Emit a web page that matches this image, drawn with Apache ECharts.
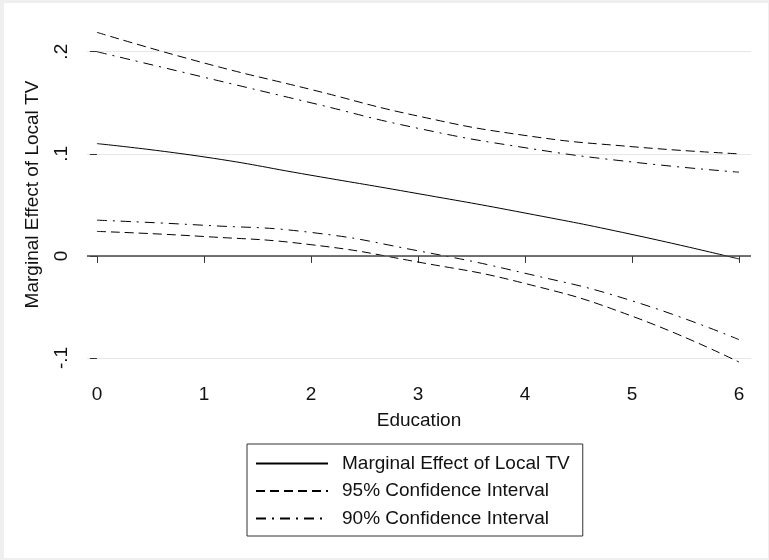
<!DOCTYPE html>
<html>
<head>
<meta charset="utf-8">
<script src="https://cdn.jsdelivr.net/npm/echarts@6/dist/echarts.min.js"></script>
<style>
  html, body { margin: 0; padding: 0; background: #efefef; }
  #myChart { width: 769px; height: 560px; }
</style>
</head>
<body>
<div id="myChart"></div>
<script>
  // education levels (x)
  var education = [0, 1, 2, 3, 4, 5, 6]
  // marginal effect + confidence bands
  var effect = [0.110, 0.097, 0.079, 0.061, 0.042, 0.021, -0.003]
  var ci95Upper = [0.219, 0.189, 0.163, 0.137, 0.118, 0.107, 0.100]
  var ci95Lower = [0.024, 0.019, 0.011, -0.006, -0.027, -0.059, -0.104]
  var ci90Upper = [0.200, 0.175, 0.150, 0.125, 0.106, 0.092, 0.082]
  var ci90Lower = [0.035, 0.030, 0.023, 0.005, -0.017, -0.044, -0.082]
  var yTicks = [-0.1, 0, 0.1, 0.2]
  var yTickLabels = { '-0.1': '-.1', '0': '0', '0.1': '.1', '0.2': '.2' }

  var font = "'Liberation Sans', Arial, sans-serif"

  function pairs(ys) {
    return education.map(function (x, i) { return [x, ys[i]] })
  }

  function lineSeries(name, ys, type) {
    return {
      name: name,
      type: 'line',
      data: pairs(ys),
      smooth: true,
      symbol: 'none',
      clip: false,
      lineStyle: { color: '#000', width: 1, type: type },
      itemStyle: { color: '#000' },
      emphasis: { disabled: true }
    }
  }

  var myChart = echarts.init(document.getElementById('myChart'))

  var series = [
    lineSeries('Marginal Effect of Local TV', effect, 'solid'),
    lineSeries('95% Confidence Interval', ci95Upper, [9, 5]),
    lineSeries('90% Confidence Interval', ci90Upper, [10, 6, 2, 6]),
    lineSeries('95% Confidence Interval', ci95Lower, [9, 5]),
    lineSeries('90% Confidence Interval', ci90Lower, [10, 6, 2, 6])
  ]
  // zero reference line
  series[0].markLine = {
    silent: true,
    symbol: 'none',
    label: { show: false },
    lineStyle: { color: '#444', width: 1.5, type: 'solid' },
    data: [{ yAxis: 0 }]
  }

  var option = {
    animation: false,
    backgroundColor: '#efefef',
    graphic: [{
      type: 'rect',
      z: -10,
      shape: { x: 4, y: 3, width: 764, height: 555 },
      style: { fill: '#fff' }
    }],
    grid: {
      left: 87,
      right: 18,
      top: 16,
      bottom: 187
    },
    legend: {
      data: ['Marginal Effect of Local TV', '95% Confidence Interval', '90% Confidence Interval'],
      orient: 'vertical',
      left: 247,
      top: 444,
      padding: [10, 13, 8, 8],
      itemWidth: 72,
      itemHeight: 14,
      itemGap: 8.5,
      borderColor: '#333',
      borderWidth: 1,
      borderRadius: 0,
      itemStyle: { opacity: 0 },
      textStyle: { fontFamily: font, fontSize: 19, color: '#111', padding: [0, 0, 0, 9] }
    },
    xAxis: {
      type: 'value',
      min: -0.093,
      max: 6.112,
      name: 'Education',
      nameLocation: 'middle',
      nameGap: 38,
      nameTextStyle: { fontFamily: font, fontSize: 19, color: '#111' },
      axisLine: { show: false },
      axisTick: { show: true, length: 7, lineStyle: { color: '#333' }, customValues: education },
      axisLabel: { fontFamily: font, fontSize: 19, color: '#111', margin: 12, customValues: education },
      splitLine: { show: false }
    },
    yAxis: {
      type: 'value',
      min: -0.1147,
      max: 0.235,
      name: 'Marginal Effect of Local TV',
      nameLocation: 'middle',
      nameGap: 45,
      nameTextStyle: { fontFamily: font, fontSize: 19, color: '#111' },
      axisLine: { show: false },
      axisTick: { show: true, length: 7, lineStyle: { color: '#333' }, customValues: yTicks },
      axisLabel: {
        fontFamily: font,
        fontSize: 19,
        color: '#111',
        rotate: 90,
        margin: 16,
        customValues: yTicks,
        formatter: function (v) {
          var key = String(Math.round(v * 10) / 10)
          return yTickLabels[key] !== undefined ? yTickLabels[key] : key
        }
      },
      splitLine: { show: true, lineStyle: { color: '#e6e6e6', width: 1 } }
    },
    series: series
  }

  myChart.setOption(option, true)
</script>
</body>
</html>
